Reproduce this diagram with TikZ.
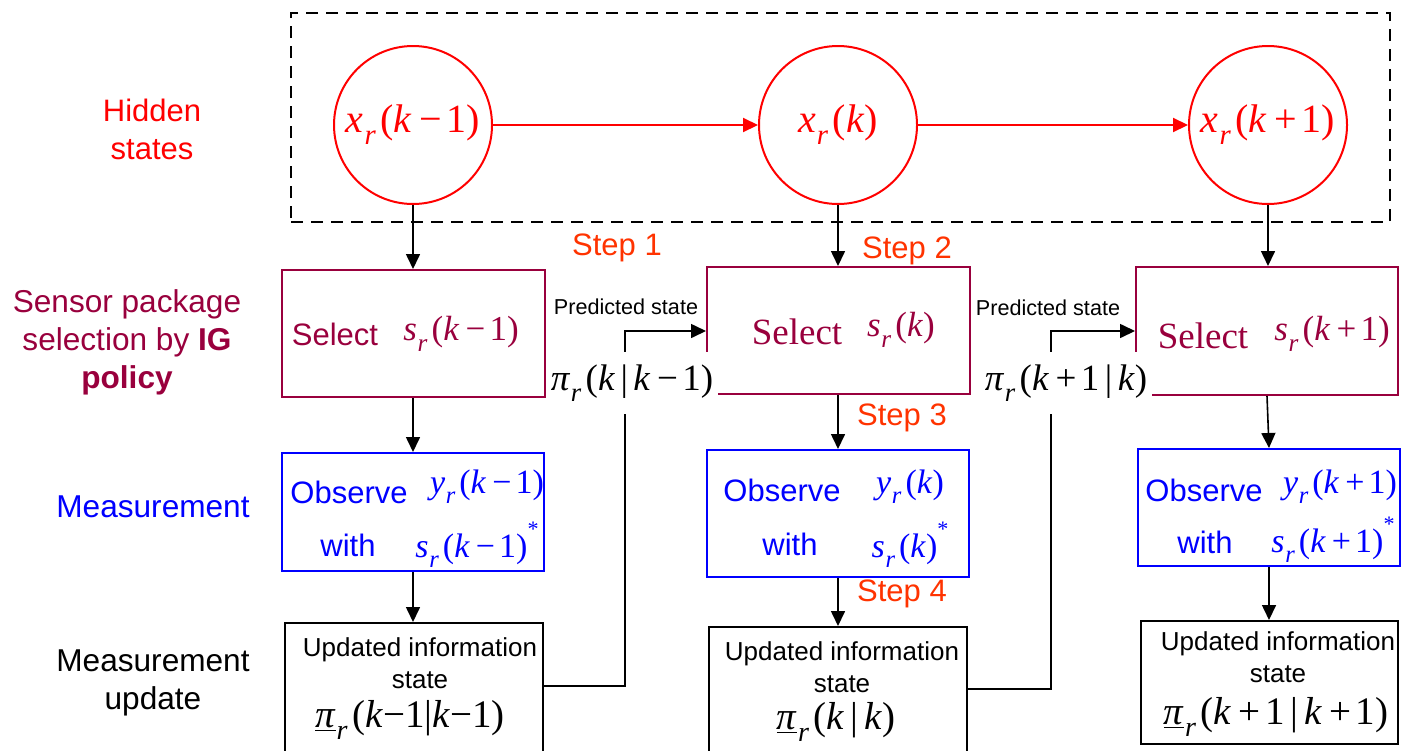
\documentclass[tikz,border=0pt]{standalone}
\usepackage{fontspec}
\setmainfont{Liberation Sans}
\newfontfamily\tnr{Liberation Serif}
\usetikzlibrary{arrows.meta}
\definecolor{hred}{RGB}{255,0,0}
\definecolor{selc}{RGB}{153,0,61}
\definecolor{obsc}{RGB}{0,0,255}
\definecolor{stepc}{RGB}{255,51,0}
\newcommand\sbr{\kern0.02em\raisebox{-0.3em}{\scalebox{0.72}{\itshape r}}\kern0.12em}
\newcommand\mi[1]{\textit{#1}}
\newcommand\mn{\kern0.18em−\kern0.12em}
\newcommand\mplus{\kern0.18em+\kern0.12em}
\newcommand\mbar{\kern0.15em|\kern0.15em}
\newcommand\mstar{\raisebox{0.6em}{\scalebox{0.65}{*}}}
\newcommand\fs[2]{\fontsize{#1}{#2}\selectfont}
\tikzset{
 hcirc/.style={circle, draw=hred, line width=1pt, minimum size=79pt, inner sep=0pt, text=hred, font=\tnr\fs{20}{24}},
 hidbox/.style={draw, dash pattern=on 6pt off 4pt, line width=1pt, minimum width=549.5pt, minimum height=104.5pt, inner sep=0pt},
 selbox/.style={draw=selc, line width=1pt, inner sep=0pt},
 obsbox/.style={draw=obsc, line width=1pt, inner sep=0pt},
 updbox/.style={draw=black, line width=1pt, inner sep=0pt},
 arr/.style={-{Triangle[length=7.5pt,width=7pt]}, line width=0.8pt},
 harr/.style={-{Triangle[length=7.5pt,width=7pt]}, draw=hred, line width=1pt},
 steplbl/.style={text=stepc, font=\fs{15.5}{18}, inner sep=0pt},
 predlbl/.style={font=\fs{10.8}{13}, inner sep=0pt},
 pilbl/.style={fill=white, inner sep=0pt, minimum width=86pt, minimum height=31pt, font=\tnr\fs{18.5}{22}},
 rowlbl/.style={align=center, font=\fs{15.8}{19}, inner sep=0pt},
 txt/.style={inner sep=0pt, anchor=center, align=center},
 sans/.style={font=\fs{15.5}{18}},
 ser/.style={font=\tnr\fs{17.5}{20}},
 upt/.style={font=\fs{13}{16}},
 upm/.style={font=\tnr\fs{19.5}{22}},
}
\begin{document}
\begin{tikzpicture}[x=0.5pt,y=-0.5pt]
\useasboundingbox (0,0) rectangle (1401,750);
% left row labels
\node[rowlbl, text=hred, font=\fs{15.5}{19}] (lh) at (152,129) {Hidden\\states};
\node[rowlbl, text=selc] (ls) at (127,342) {Sensor package\\selection by \textbf{IG}\\\textbf{policy}};
\node[rowlbl, text=obsc] (lm) at (153,507) {Measurement};
\node[rowlbl] (lu) at (153,683) {Measurement\\update};
% hidden states
\node[hidbox] (hid) at (840.5,117.5) {};
\node[hcirc] (c1) at (413,125) {\mi{x}\sbr(\mi{k}\mn1)};
\node[hcirc] (c2) at (838,125) {\mi{x}\sbr(\mi{k})};
\node[hcirc] (c3) at (1268,125) {\mi{x}\sbr(\mi{k}\mplus1)};
\draw[harr] (c1.east) -- (c2.west);
\draw[harr] (c2.east) -- (c3.west);
% select boxes
\node[selbox, minimum width=131.5pt, minimum height=63.5pt] (sel1) at (413.5,333.5) {};
\node[selbox, minimum width=131.5pt, minimum height=63.5pt] (sel2) at (838.5,330.5) {};
\node[selbox, minimum width=131pt, minimum height=64pt] (sel3) at (1267,331) {};
% observe boxes
\node[obsbox, minimum width=131pt, minimum height=59pt] (obs1) at (413,512) {};
\node[obsbox, minimum width=131pt, minimum height=63.5pt] (obs2) at (838,513.5) {};
\node[obsbox, minimum width=131pt, minimum height=58.5pt] (obs3) at (1269,507.5) {};
% update boxes
\node[updbox, minimum width=129pt, minimum height=83.5pt] (upd1) at (414,706.5) {};
\node[updbox, minimum width=129pt, minimum height=81.5pt] (upd2) at (838,708.5) {};
\node[updbox, minimum width=128.5pt, minimum height=61.5pt] (upd3) at (1269.5,682.5) {};
% vertical arrows
\draw[arr] (c1.south) -- (sel1.north -| c1.south);
\draw[arr] (c2.south) -- (sel2.north -| c2.south);
\draw[arr] (c3.south) -- (sel3.north -| c3.south);
\draw[arr] (sel1.south -| obs1.north) -- (obs1.north);
\draw[arr] (sel2.south -| obs2.north) -- (obs2.north);
\draw[arr] (sel3.south) -- (obs3.north);
\draw[arr] (obs1.south) -- (upd1.north -| obs1.south);
\draw[arr] (obs2.south) -- (upd2.north -| obs2.south);
\draw[arr] (obs3.south) -- (upd3.north -| obs3.south);
% feedback connectors
\coordinate (b1) at (625,331);
\coordinate (b2) at (1051,331);
\draw[arr] (upd1.north east) ++(0,64) -| (b1) -- (sel2.west |- b1);
\draw[arr] (upd2.north east) ++(0,63) -| (b2) -- (sel3.west |- b2);
% predicted state labels
\node[pilbl] (pi1) at (632,383) {\mi{π}\sbr(\mi{k}\mbar\mi{k}\mn1)};
\node[pilbl] (pi2) at (1066,383) {\mi{π}\sbr(\mi{k}\mplus1\mbar\mi{k})};
\node[predlbl] (pr1) at (626,307) {Predicted state};
\node[predlbl] (pr2) at (1048,308) {Predicted state};
% steps
\node[steplbl] (st1) at (617,248) {Step 1};
\node[steplbl] (st2) at (907,251) {Step 2};
\node[steplbl] (st3) at (902,418) {Step 3};
\node[steplbl] (st4) at (902,594) {Step 4};
% select texts
\node[txt, sans, text=selc] (s1a) at (335,334) {Select};
\node[txt, ser, text=selc] (s1b) at (461,334) {\mi{s}\sbr(\mi{k}\mn1)};
\node[txt, text=selc, font=\tnr\fs{18.5}{22}] (s2a) at (797,332) {Select};
\node[txt, ser, text=selc] (s2b) at (901,330) {\mi{s}\sbr(\mi{k})};
\node[txt, text=selc, font=\tnr\fs{18.5}{22}] (s3a) at (1203,336) {Select};
\node[txt, ser, text=selc] (s3b) at (1332,334) {\mi{s}\sbr(\mi{k}\mplus1)};
% observe texts
\node[txt, sans, text=obsc] (o1a) at (349,492) {Observe};
\node[txt, ser, text=obsc, font=\tnr\fs{17}{20}] (o1b) at (487,487) {\mi{y}\sbr(\mi{k}\mn1)};
\node[txt, sans, text=obsc] (o1c) at (348,545) {with};
\node[txt, ser, text=obsc, font=\tnr\fs{17}{20}] (o1d) at (477,545) {\mi{s}\sbr(\mi{k}\mn1)\mstar};
\node[txt, sans, text=obsc] (o2a) at (782,490) {Observe};
\node[txt, ser, text=obsc, font=\tnr\fs{17}{20}] (o2b) at (910,487) {\mi{y}\sbr(\mi{k})};
\node[txt, sans, text=obsc] (o2c) at (790,544) {with};
\node[txt, ser, text=obsc, font=\tnr\fs{17}{20}] (o2d) at (910,545) {\mi{s}\sbr(\mi{k})\mstar};
\node[txt, sans, text=obsc] (o3a) at (1204,490) {Observe};
\node[txt, ser, text=obsc, font=\tnr\fs{17}{20}] (o3b) at (1340,487) {\mi{y}\sbr(\mi{k}\mplus1)};
\node[txt, sans, text=obsc] (o3c) at (1205,542) {with};
\node[txt, ser, text=obsc, font=\tnr\fs{17}{20}] (o3d) at (1333,540) {\mi{s}\sbr(\mi{k}\mplus1)\mstar};
% update texts
\node[txt, upt] (u1a) at (420,663) {Updated information\\state};
\node[txt, upm] (u1b) at (410,720) {\underline{\mi{π}}\sbr(\mi{k}−1|\mi{k}−1)};
\node[txt, upt] (u2a) at (842,667) {Updated information\\state};
\node[txt, upm] (u2b) at (836,722) {\underline{\mi{π}}\sbr(\mi{k}\mbar\mi{k})};
\node[txt, upt] (u3a) at (1278,657) {Updated information\\state};
\node[txt, upm] (u3b) at (1276,717) {\underline{\mi{π}}\sbr(\mi{k}\mplus1\mbar\mi{k}\mplus1)};
\end{tikzpicture}
\end{document}
